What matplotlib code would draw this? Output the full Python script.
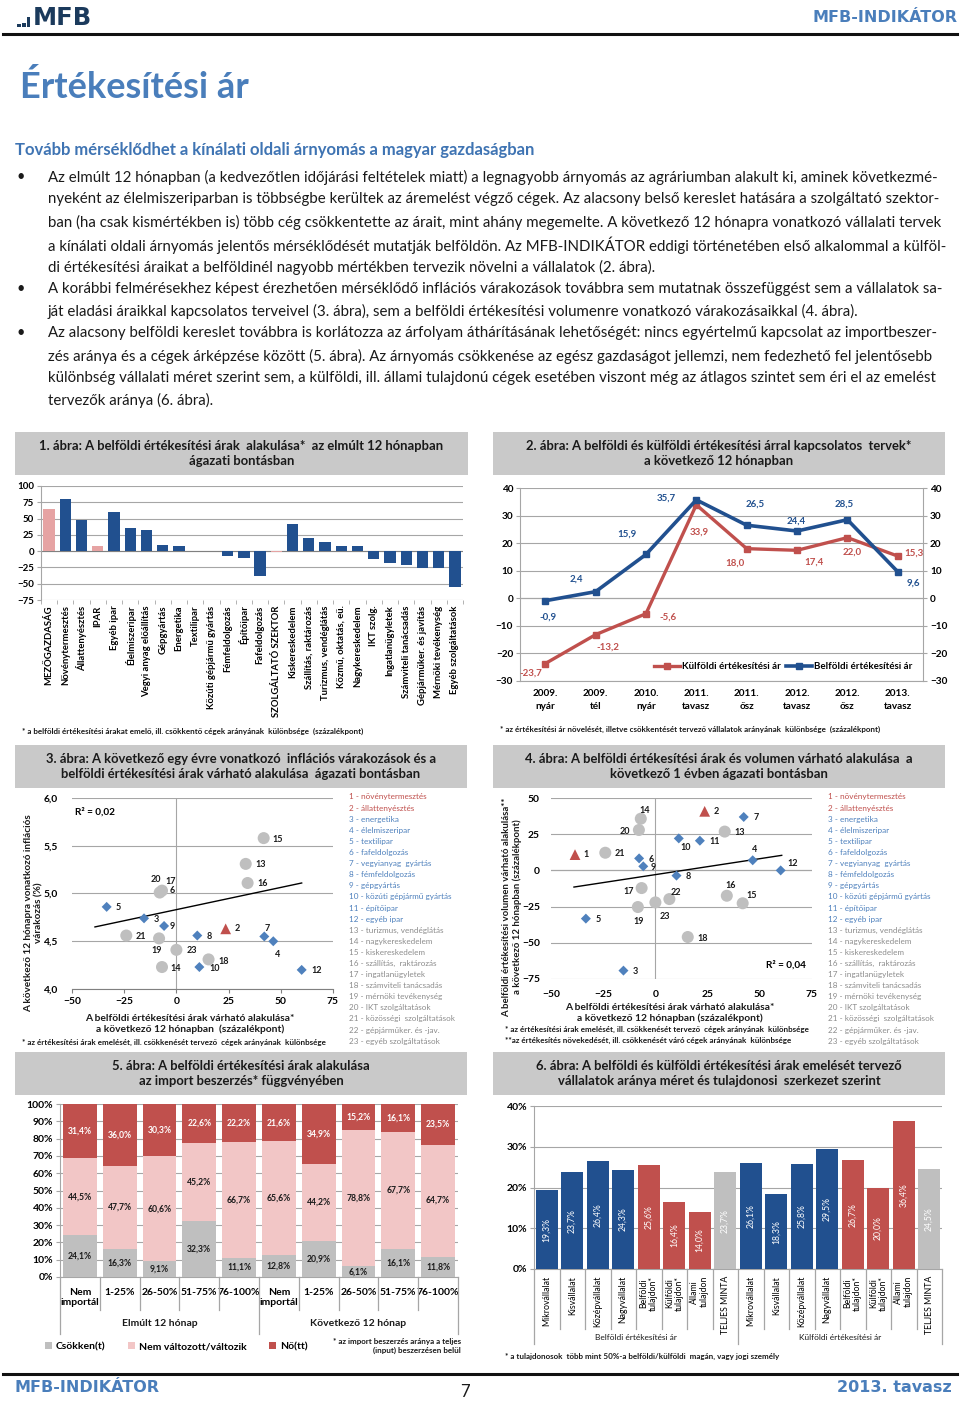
import numpy as np
import matplotlib
matplotlib.use("Agg")
import matplotlib.pyplot as plt
import matplotlib.transforms as mtransforms
from matplotlib.patches import Rectangle
from matplotlib.lines import Line2D
from matplotlib.ticker import FuncFormatter

plt.rcParams['font.family'] = ['Lato', 'DejaVu Sans']

# ---------------- data ----------------
# 1. abra
sectors1 = ['MEZŐGAZDASÁG', 'Növénytermesztés', 'Állattenyésztés', 'IPAR', 'Egyéb ipar',
            'Élelmiszeripar', 'Vegyi anyag előállítás', 'Gépgyártás', 'Energetika', 'Textilipar',
            'Közúti gépjármű gyártás', 'Fémfeldolgozás', 'Építőipar', 'Fafeldolgozás',
            'SZOLGÁLTATÓ SZEKTOR', 'Kiskereskedelem', 'Szállítás, raktározás',
            'Turizmus, vendéglátás', 'Közmű, oktatás, eü.', 'Nagykereskedelem', 'IKT szolg.',
            'Ingatlanügyletek', 'Számviteli tanácsadás', 'Gépjárműker. és javítás',
            'Mérnöki tevékenység', 'Egyéb szolgáltatások']
values1 = [64, 80, 48, 8, 60, 36, 32, 9, 8, 0, 0, -7, -10, -38, -1.5, 42, 20, 14, 8, 8,
           -12, -18, -22, -26, -26, -55]
aggregates1 = ['MEZŐGAZDASÁG', 'IPAR', 'SZOLGÁLTATÓ SZEKTOR']

# 2. abra
periods2 = ['2009.\nnyár', '2009.\ntél', '2010.\nnyár', '2011.\ntavasz', '2011.\nősz',
            '2012.\ntavasz', '2012.\nősz', '2013.\ntavasz']
foreign2 = [-23.7, -13.2, -5.6, 33.9, 18.0, 17.4, 22.0, 15.3]
domestic2 = [-0.9, 2.4, 15.9, 35.7, 26.5, 24.4, 28.5, 9.6]

# 3. abra (x: belföldi ár várakozás, y: inflációs várakozás)
ids3 = [2, 3, 4, 5, 6, 7, 8, 9, 10, 12, 13, 14, 15, 16, 17, 18, 19, 20, 21, 23]
x3 = [23.6, -15.5, 46.4, -33.4, -7.0, 42.1, 10.0, -5.9, 11.0, 60.0,
      33.2, -6.9, 41.8, 34.1, -6.9, 15.4, -8.3, -8.0, -24.0, 0.0]
y3 = [4.63, 4.74, 4.50, 4.86, 5.02, 4.55, 4.56, 4.66, 4.23, 4.20,
      5.31, 4.23, 5.58, 5.11, 5.03, 4.31, 4.53, 5.01, 4.56, 4.41]
trend3_x = [-39, 60]
trend3_y = [4.65, 5.11]

# 4. abra (x: belföldi ár várakozás, y: volumen várakozás)
ids4 = list(range(1, 24))
x4 = [-38.5, 23.6, -15.3, 46.6, -33.3, -7.8, 42.3, 10.1, -5.8, 11.2, 21.3, 60.0,
      33.2, -7.0, 41.8, 34.2, -6.6, 15.5, -8.4, -7.9, -24.0, 6.7, 0.0]
y4 = [10.9, 40.8, -69.2, 7.0, -33.3, 8.3, 36.9, -3.6, 2.8, 22.1, 20.5, 0.0,
      26.8, 35.7, -22.7, -17.5, -12.2, -46.0, -25.3, 27.9, 12.2, -19.8, -22.1]
trend4_x = [-39, 60.5]
trend4_y = [-11.5, 10.4]

sector_names = ['növénytermesztés', 'állattenyésztés', 'energetika', 'élelmiszeripar',
                'textilipar', 'fafeldolgozás', 'vegyianyag  gyártás', 'fémfeldolgozás',
                'gépgyártás', 'közúti gépjármű gyártás', 'építőipar', 'egyéb ipar',
                'turizmus, vendéglátás', 'nagykereskedelem', 'kiskereskedelem',
                'szállítás,  raktározás', 'ingatlanügyletek', 'számviteli tanácsadás',
                'mérnöki tevékenység', 'IKT szolgáltatások', 'közösségi  szolgáltatások',
                'gépjárműker. és -jav.', 'egyéb szolgáltatások']

# 5. abra
import_cats5 = ['Nem\nimportál', '1-25%', '26-50%', '51-75%', '76-100%'] * 2
periods5 = ['Elmúlt 12 hónap', 'Következő 12 hónap']
dec5 = [24.1, 16.3, 9.1, 32.3, 11.1, 12.8, 20.9, 6.1, 16.1, 11.8]
same5 = [44.5, 47.7, 60.6, 45.2, 66.7, 65.6, 44.2, 78.8, 67.7, 64.7]
inc5 = [31.4, 36.0, 30.3, 22.6, 22.2, 21.6, 34.9, 15.2, 16.1, 23.5]

# 6. abra
groups6 = ['Mikrovállalat', 'Kisvállalat', 'Középvállalat', 'Nagyvállalat',
           'Belföldi\ntulajdon*', 'Külföldi\ntulajdon*', 'Állami\ntulajdon', 'TELJES MINTA'] * 2
kinds6 = ['méret'] * 4 + ['tulajdon'] * 3 + ['teljes']
kinds6 = kinds6 * 2
markets6 = ['Belföldi értékesítési ár', 'Külföldi értékesítési ár']
values6 = [19.3, 23.7, 26.4, 24.3, 25.6, 16.4, 14.0, 23.7,
           26.1, 18.3, 25.8, 29.5, 26.7, 20.0, 36.4, 24.5]

# ---------------- styles ----------------
W, H = 960, 1401
NAVY = '#21508F'
RED = '#C0504D'
LBLUE = '#4F81BD'
GREY = '#BFBFBF'
GRID = '#A6A6A6'
TXT = '#1A1A1A'
HEAD = '#4A7EBB'
PINK = '#E6A3A3'

fig = plt.figure(figsize=(W / 100, H / 100), dpi=100)


def ax_px(x0, y0, x1, y1):
    return fig.add_axes([x0 / W, 1 - y1 / H, (x1 - x0) / W, (y1 - y0) / H])


def text_px(x, y, s, **kw):
    kw.setdefault('va', 'center')
    kw.setdefault('color', TXT)
    return fig.text(x / W, 1 - y / H, s, **kw)


def hline_px(x0, x1, y, lw=2.2, color='#111111'):
    fig.add_artist(Line2D([x0 / W, x1 / W], [1 - y / H, 1 - y / H], lw=lw, color=color))


def title_box(x0, y0, x1, y1, title):
    fig.add_artist(Rectangle((x0 / W, 1 - y1 / H), (x1 - x0) / W, (y1 - y0) / H,
                             transform=fig.transFigure, facecolor='#C9C9C9', edgecolor='none'))
    text_px((x0 + x1) / 2, (y0 + y1) / 2, title, ha='center', fontsize=9.4, fontweight='bold',
            linespacing=1.25)


def comma(fmt):
    return FuncFormatter(lambda v, p: (fmt % v).replace('.', ','))


# ---------------- page header ----------------
for i, hh in enumerate([3, 4, 10]):
    fig.add_artist(Rectangle(((17 + i * 5) / W, 1 - 27 / H), 3.5 / W, hh / H,
                             transform=fig.transFigure, facecolor='#1B3A5C', edgecolor='none'))
text_px(33, 18, 'MFB', fontsize=17.5, fontweight='bold', color='#1B3A5C', family='DejaVu Sans')
text_px(957, 17, 'MFB-INDIKÁTOR', ha='right', fontsize=11.5, fontweight='bold',
        color=HEAD, family='DejaVu Sans')
hline_px(3, 957, 34)

text_px(20, 87, 'Értékesítési ár', fontsize=26, fontweight='bold', color=HEAD)
text_px(15, 150, 'Tovább mérséklődhet a kínálati oldali árnyomás a magyar gazdaságban',
        fontsize=12, fontweight='bold', color='#3F74B3')

body = [
    (177, True, 'Az elmúlt 12 hónapban (a kedvezőtlen időjárási feltételek miatt) a legnagyobb árnyomás az agráriumban alakult ki, aminek következmé-'),
    (199, False, 'nyeként az élelmiszeriparban is többségbe kerültek az áremelést végző cégek. Az alacsony belső kereslet hatására a szolgáltató szektor-'),
    (222, False, 'ban (ha csak kismértékben is) több cég csökkentette az árait, mint ahány megemelte. A következő 12 hónapra vonatkozó vállalati tervek'),
    (245, False, 'a kínálati oldali árnyomás jelentős mérséklődését mutatják belföldön. Az MFB-INDIKÁTOR eddigi történetében első alkalommal a külföl-'),
    (267, False, 'di értékesítési áraikat a belföldinél nagyobb mértékben tervezik növelni a vállalatok (2. ábra).'),
    (289, True, 'A korábbi felmérésekhez képest érezhetően mérséklődő inflációs várakozások továbbra sem mutatnak összefüggést sem a vállalatok sa-'),
    (311, False, 'ját eladási áraikkal kapcsolatos terveivel (3. ábra), sem a belföldi értékesítési volumenre vonatkozó várakozásaikkal (4. ábra).'),
    (333, True, 'Az alacsony belföldi kereslet továbbra is korlátozza az árfolyam áthárításának lehetőségét: nincs egyértelmű kapcsolat az importbeszer-'),
    (356, False, 'zés aránya és a cégek árképzése között (5. ábra). Az árnyomás csökkenése az egész gazdaságot jellemzi, nem fedezhető fel jelentősebb'),
    (378, False, 'különbség vállalati méret szerint sem, a külföldi, ill. állami tulajdonú cégek esetében viszont még az átlagos szintet sem éri el az emelést'),
    (400, False, 'tervezők aránya (6. ábra).'),
]
for y, bullet, line in body:
    if bullet:
        text_px(17, y, '•', fontsize=10.5)
    text_px(48, y, line, fontsize=10.8)

# ---------------- 1. abra ----------------
title_box(15, 432, 468, 475,
          '1. ábra: A belföldi értékesítési árak  alakulása*  az elmúlt 12 hónapban\nágazati bontásban')
ax1 = ax_px(41, 486, 463, 600)
cols1 = [PINK if s in aggregates1 else NAVY for s in sectors1]
ax1.bar(range(len(values1)), values1, width=0.7, color=cols1, zorder=3)
ax1.set_xlim(-0.5, len(values1) - 0.5)
ax1.set_ylim(-75, 100)
ax1.set_yticks(range(-75, 101, 25))
ax1.grid(axis='y', color=GRID, lw=0.8, zorder=0)
ax1.set_xticks(range(len(values1)))
ax1.set_xticklabels(sectors1, rotation=90, fontsize=6.8, fontweight='bold')
ax1.set_xticks(np.arange(-0.5, len(values1), 1), minor=True)
ax1.tick_params(axis='x', which='major', length=0, pad=4)
ax1.tick_params(axis='x', which='minor', length=3, color=GRID)
ax1.tick_params(axis='y', length=3, color=GRID, labelsize=7, pad=2)
for lb in ax1.get_yticklabels():
    lb.set_fontweight('bold')
for s in ['top', 'right', 'bottom']:
    ax1.spines[s].set_visible(False)
ax1.spines['left'].set_color(GRID)
ax1.axhline(0, color='#808080', lw=0.8, zorder=2)
text_px(22, 731, '* a belföldi értékesítési árakat emelő, ill. csökkentő cégek arányának  különbsége  (százalékpont)',
        fontsize=5.8, fontweight='bold')

# ---------------- 2. abra ----------------
title_box(493, 432, 945, 475,
          '2. ábra: A belföldi és külföldi értékesítési árral kapcsolatos  tervek*\na következő 12 hónapban')
ax2 = ax_px(520, 488, 923, 681)
xs2 = np.arange(len(periods2))
ax2.plot(xs2, foreign2, color=RED, lw=2.4, marker='s', ms=4.5, label='Külföldi értékesítési ár', zorder=3)
ax2.plot(xs2, domestic2, color=NAVY, lw=2.6, marker='s', ms=4.5, label='Belföldi értékesítési ár', zorder=4)
ax2.set_xlim(-0.5, len(periods2) - 0.5)
ax2.set_ylim(-30, 40)
ax2.set_yticks(range(-30, 41, 10))
ax2.grid(axis='y', color=GRID, lw=0.8, zorder=0)
ax2.axhline(0, color='#808080', lw=0.8, zorder=1)
ax2.set_xticks(xs2)
ax2.set_xticklabels(periods2, fontsize=7.2, fontweight='bold', linespacing=1.5)
ax2.tick_params(axis='x', length=0, pad=6)
ax2.tick_params(axis='y', length=3, color=GRID, labelsize=7.2, pad=2, labelright=True, right=True)
for lb in ax2.yaxis.get_ticklabels(which='both'):
    lb.set_fontweight('bold')
ax2.spines['top'].set_visible(False)
for s in ['left', 'right', 'bottom']:
    ax2.spines[s].set_color(GRID)
off_dom2 = [(3, 16), (-19, -13), (-19, -20), (-30, -2), (8, -21), (-1, -10), (-3, -16), (16, 11)]
off_for2 = [(-14, 9), (12, 12), (22, 3), (3, 27), (-12, 14), (17, 12), (5, 14), (16, -3)]
for x, v, (dx, dy) in zip(xs2, domestic2, off_dom2):
    ax2.annotate(f'{v:.1f}'.replace('.', ','), (x, v), xytext=(dx, -dy), textcoords='offset pixels',
                 ha='center', va='center', fontsize=7, fontweight='bold', color=NAVY)
for x, v, (dx, dy) in zip(xs2, foreign2, off_for2):
    ax2.annotate(f'{v:.1f}'.replace('.', ','), (x, v), xytext=(dx, -dy), textcoords='offset pixels',
                 ha='center', va='center', fontsize=7, fontweight='bold', color=RED)
leg2 = ax2.legend(loc='center', bbox_to_anchor=(0.653, 0.073), ncol=2, fontsize=7,
                  frameon=True, framealpha=1, edgecolor='none', handlelength=2.6,
                  handletextpad=0.2, columnspacing=0.6, borderpad=0.15)
for t in leg2.get_texts():
    t.set_fontweight('bold')
text_px(500, 729, '* az értékesítési ár növelését, illetve csökkentését tervező vállalatok arányának  különbsége  (százalékpont)',
        fontsize=5.8, fontweight='bold')


# ---------------- 3. & 4. abra ----------------
def sector_style(i):
    if i <= 2:
        return dict(marker='^', color=RED, s=60)
    if i <= 12:
        return dict(marker='D', color=LBLUE, s=26)
    return dict(marker='o', color=GREY, s=75)


def scatter_panel(ax, ids, xs, ys, offsets):
    for grp in [lambda i: 3 <= i <= 12, lambda i: i >= 13, lambda i: i <= 2]:
        for i, x, y in zip(ids, xs, ys):
            if grp(i):
                ax.scatter(x, y, edgecolors='none', zorder=3, **sector_style(i))
    for i, x, y in zip(ids, xs, ys):
        dx, dy = offsets[i]
        ax.annotate(str(i), (x, y), xytext=(dx, -dy), textcoords='offset pixels',
                    ha='center', va='center', fontsize=6.5, fontweight='bold', color=TXT, zorder=5)


def sector_legend(x, y0):
    for k, name in enumerate(sector_names, start=1):
        c = RED if k <= 2 else (LBLUE if k <= 12 else '#8C8C8C')
        text_px(x, y0 + (k - 1) * 11.1, f'{k} - {name}', fontsize=5.9, color=c)


title_box(15, 745, 467, 788,
          '3. ábra: A következő egy évre vonatkozó  inflációs várakozások és a\nbelföldi értékesítési árak várható alakulása  ágazati bontásban')
ax3 = ax_px(72, 798, 333, 989)
ax3.set_xlim(-50, 75)
ax3.set_ylim(4, 6)
ax3.set_yticks(np.arange(4, 6.01, 0.5))
ax3.set_xticks(range(-50, 76, 25))
ax3.yaxis.set_major_formatter(comma('%.1f'))
ax3.grid(axis='y', color=GRID, lw=0.8, zorder=0)
ax3.axvline(0, color=GRID, lw=0.8, zorder=1)
for s in ['top', 'right', 'left']:
    ax3.spines[s].set_visible(False)
ax3.spines['bottom'].set_color('#808080')
ax3.tick_params(axis='y', length=0, labelsize=7.4, pad=10)
ax3.tick_params(axis='x', length=3, color='#808080', labelsize=7.4, pad=3)
for lb in ax3.get_xticklabels() + ax3.get_yticklabels():
    lb.set_fontweight('bold')
ax3.plot(trend3_x, trend3_y, color='black', lw=1.0, zorder=2)
off3 = {2: (12, 0), 3: (12, 1), 4: (4, 13), 5: (12, 1), 6: (10, -1), 7: (3, -8), 8: (12, 1),
        9: (8, 1), 10: (15, 1), 12: (15, 1), 13: (15, 1), 14: (14, 1), 15: (14, 1), 16: (15, 1),
        17: (9, -9), 18: (15, 2), 19: (-2, 12), 20: (-4, -13), 21: (15, 1), 23: (15, 1)}
scatter_panel(ax3, ids3, x3, y3, off3)
ax3.text(-48.5, 5.85, 'R² = 0,02', fontsize=7.2, fontweight='bold', va='center')
text_px(34, 913, 'A következő 12 hónapra vonatkozó inflációs\nvárakozás (%)', rotation=90, ha='center',
        fontsize=7.2, fontweight='bold', linespacing=1.25)
text_px(190, 1024, 'A belföldi értékesítési árak várható alakulása*\na következő 12 hónapban  (százalékpont)',
        ha='center', fontsize=7.4, fontweight='bold', linespacing=1.25)
text_px(22, 1042, '* az értékesítési árak emelését, ill. csökkenését tervező  cégek arányának  különbsége',
        fontsize=5.8, fontweight='bold')
sector_legend(349, 797)

title_box(493, 745, 945, 788,
          '4. ábra: A belföldi értékesítési árak és volumen várható alakulása  a\nkövetkező 1 évben ágazati bontásban')
ax4 = ax_px(551, 798, 812, 979)
ax4.set_xlim(-50, 75)
ax4.set_ylim(-75, 50)
ax4.set_yticks(range(-75, 51, 25))
ax4.set_xticks(range(-50, 76, 25))
ax4.grid(axis='y', color=GRID, lw=0.8, zorder=0)
ax4.axvline(0, color=GRID, lw=0.8, zorder=1)
ax4.axhline(0, color='#808080', lw=0.8, zorder=1)
for s in ['top', 'right', 'left', 'bottom']:
    ax4.spines[s].set_visible(False)
ax4.tick_params(axis='y', length=0, labelsize=7.4, pad=8)
ax4.tick_params(axis='x', length=0, labelsize=7.4, pad=8)
for lb in ax4.get_xticklabels() + ax4.get_yticklabels():
    lb.set_fontweight('bold')
ax4.plot(trend4_x, trend4_y, color='black', lw=1.0, zorder=2)
off4 = {1: (11, 0), 2: (12, 0), 3: (12, 1), 4: (2, -11), 5: (12, 1), 6: (12, 1), 7: (12, 1),
        8: (12, 1), 9: (10, 1), 10: (7, 9), 11: (15, 1), 12: (12, -7), 13: (15, 1), 14: (4, -8),
        15: (9, -8), 16: (4, -10), 17: (-13, 3), 18: (15, 1), 19: (1, 14), 20: (-14, 1),
        21: (15, 1), 22: (6, -7), 23: (9, 14)}
scatter_panel(ax4, ids4, x4, y4, off4)
ax4.text(72, -65.5, 'R² = 0,04', fontsize=7.2, fontweight='bold', va='center', ha='right')
text_px(512, 907, 'A belföldi értékesítési volumen várható alakulása**\na következő 12 hónapban (százalékpont)',
        rotation=90, ha='center', fontsize=6.9, fontweight='bold', linespacing=1.2)
text_px(670, 1013, 'A belföldi értékesítési árak várható alakulása*\na következő 12 hónapban (százalékpont)',
        ha='center', fontsize=7.4, fontweight='bold', linespacing=1.25)
text_px(505, 1029, '* az értékesítési árak emelését, ill. csökkenését tervező  cégek arányának  különbsége',
        fontsize=5.8, fontweight='bold')
text_px(505, 1040, '**az értékesítés növekedését, ill. csökkenését váró cégek arányának  különbsége',
        fontsize=5.8, fontweight='bold')
sector_legend(828, 797)

# ---------------- 5. abra ----------------
title_box(15, 1052, 467, 1095, '5. ábra: A belföldi értékesítési árak alakulása\naz import beszerzés* függvényében')
ax5 = ax_px(60, 1104, 458, 1277)
xs5 = np.arange(len(import_cats5))
b_dec = ax5.bar(xs5, dec5, width=0.85, color=GREY, zorder=3, label='Csökken(t)')
b_same = ax5.bar(xs5, same5, width=0.85, bottom=dec5, color='#F2C6C6', zorder=3,
                 label='Nem változott/változik')
b_inc = ax5.bar(xs5, inc5, width=0.85, bottom=np.add(dec5, same5), color=RED, zorder=3, label='Nő(tt)')
for bars, vals, col in [(b_dec, dec5, TXT), (b_same, same5, TXT), (b_inc, inc5, 'white')]:
    ax5.bar_label(bars, labels=[f'{v:.1f}%'.replace('.', ',') for v in vals], label_type='center',
                  fontsize=6.2, fontweight='bold', color=col)
ax5.set_xlim(-0.5, len(xs5) - 0.5)
ax5.set_ylim(0, 100)
ax5.set_yticks(range(0, 101, 10))
ax5.yaxis.set_major_formatter(FuncFormatter(lambda v, p: f'{v:.0f}%'))
ax5.grid(axis='y', color=GRID, lw=0.8, zorder=0)
ax5.set_xticks(xs5)
ax5.set_xticklabels(import_cats5, fontsize=7.5, fontweight='bold', linespacing=1.15, va='top')
ax5.tick_params(axis='x', length=0, pad=8)
ax5.tick_params(axis='y', length=3, color=GRID, labelsize=7.5, pad=2)
for lb in ax5.get_yticklabels():
    lb.set_fontweight('bold')
for s in ['top', 'right']:
    ax5.spines[s].set_visible(False)
ax5.spines['left'].set_color(GRID)
ax5.spines['bottom'].set_color(GRID)
tr5 = mtransforms.blended_transform_factory(ax5.transData, ax5.transAxes)
for b in np.arange(-0.5, len(xs5), 1):
    low = -0.33 if b in (-0.5, 4.5, 9.5) else -0.19
    ax5.plot([b, b], [0, low], transform=tr5, color=GRID, lw=0.9, clip_on=False)
for g, name in enumerate(periods5):
    ax5.text(g * 5 + 2, -0.27, name, transform=tr5, ha='center', va='center',
             fontsize=7.5, fontweight='bold', color=TXT)
leg5 = fig.legend(handles=[b_dec, b_same, b_inc], loc='center left',
                  bbox_to_anchor=(36 / W, 1 - 1347 / H), ncol=3, frameon=False, fontsize=7.5,
                  handlelength=0.65, handleheight=0.65, handletextpad=0.35, columnspacing=2.2)
for t in leg5.get_texts():
    t.set_fontweight('bold')
text_px(461, 1346, '* az import beszerzés aránya a teljes\n(input) beszerzésen belül', ha='right',
        multialignment='right', fontsize=5.8, fontweight='bold', linespacing=1.35)

# ---------------- 6. abra ----------------
title_box(493, 1052, 945, 1095,
          '6. ábra: A belföldi és külföldi értékesítési árak emelését tervező\nvállalatok aránya méret és tulajdonosi  szerkezet szerint')
ax6 = ax_px(534, 1106, 942, 1269)
xs6 = np.arange(len(values6))
kind_col = {'méret': NAVY, 'tulajdon': RED, 'teljes': GREY}
b6 = ax6.bar(xs6, values6, width=0.85, color=[kind_col[k] for k in kinds6], zorder=3)
ax6.bar_label(b6, labels=[f'{v:.1f}%'.replace('.', ',') for v in values6], label_type='center',
              rotation=90, fontsize=6.2, color='white')
ax6.set_xlim(-0.5, len(xs6) - 0.5)
ax6.set_ylim(0, 40)
ax6.set_yticks(range(0, 41, 10))
ax6.yaxis.set_major_formatter(FuncFormatter(lambda v, p: f'{v:.0f}%'))
ax6.grid(axis='y', color=GRID, lw=0.8, zorder=0)
ax6.set_xticks(xs6)
ax6.set_xticklabels(groups6, rotation=90, fontsize=6.3, va='top', ha='center', linespacing=1.1)
ax6.tick_params(axis='x', length=0, pad=5)
ax6.tick_params(axis='y', length=3, color=GRID, labelsize=7.5, pad=2)
for lb in ax6.get_yticklabels():
    lb.set_fontweight('bold')
for s in ['top', 'right']:
    ax6.spines[s].set_visible(False)
ax6.spines['left'].set_color(GRID)
ax6.spines['bottom'].set_color(GRID)
tr6 = mtransforms.blended_transform_factory(ax6.transData, ax6.transAxes)
for b in np.arange(-0.5, len(xs6), 1):
    low = -0.46 if b in (-0.5, 7.5, 15.5) else -0.37
    ax6.plot([b, b], [0, low], transform=tr6, color=GRID, lw=0.9, clip_on=False)
for g, name in enumerate(markets6):
    ax6.text(g * 8 + 3.5, -0.42, name, transform=tr6, ha='center', va='center',
             fontsize=6, color=TXT)
text_px(505, 1356, '* a tulajdonosok  több mint 50%-a belföldi/külföldi  magán, vagy jogi személy',
        fontsize=5.8, fontweight='bold')

# ---------------- footer ----------------
hline_px(3, 957, 1374)
text_px(15, 1388, 'MFB-INDIKÁTOR', fontsize=11.5, fontweight='bold', color=HEAD, family='DejaVu Sans')
text_px(465, 1392, '7', ha='center', fontsize=12)
text_px(952, 1388, '2013. tavasz', ha='right', fontsize=11.5, fontweight='bold', color=HEAD,
        family='DejaVu Sans')

fig.savefig('out.png', dpi=100)
